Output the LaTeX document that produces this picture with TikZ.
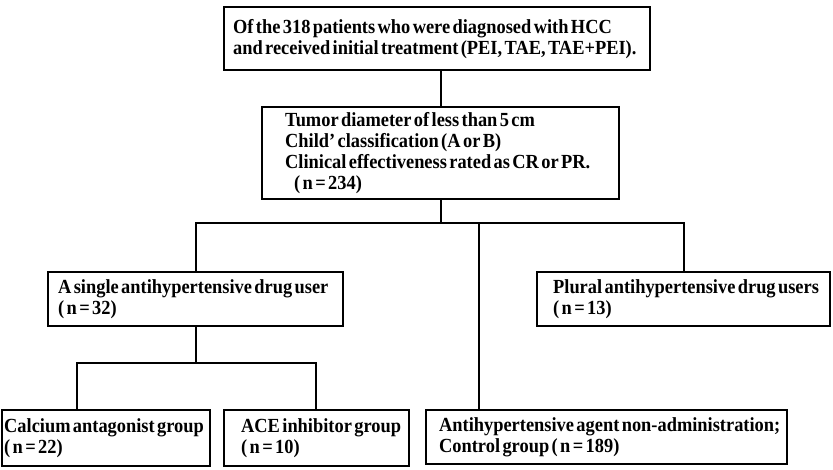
\documentclass[tikz,border=0pt]{standalone}
\usepackage{fontspec}
\setmainfont{Liberation Serif}[BoldFeatures={FakeStretch=0.92}]
\begin{document}
\begin{tikzpicture}[x=1pt,y=-1pt,
  every node/.style={font=\fontsize{20}{21}\selectfont\bfseries},
  boxnode/.style={draw,line width=2.3pt,anchor=north west,align=left,inner ysep=0pt,
    execute at begin node={\spaceskip=0.12em\relax}},
  link/.style={line width=2.3pt}]
\useasboundingbox (0,0) rectangle (833,469);
\node[boxnode,inner xsep=9pt,text width=408pt,minimum height=63pt] (b1) at (223,6)
  {\mbox{Of the 318 patients who were diagnosed with HCC}\\\mbox{and received initial treatment (PEI, TAE, TAE+PEI).}};
\node[boxnode,inner xsep=23pt,text width=311pt,minimum height=92pt] (b2) at (261,106)
  {\mbox{Tumor diameter of less than 5 cm}\\\mbox{Child' classification (A or B)}\\\mbox{Clinical effectiveness rated as CR or PR.}\\\mbox{\hspace*{9pt}( n = 234)}};
\node[boxnode,inner xsep=10pt,text width=275pt,minimum height=54pt] (b3) at (47,271)
  {\mbox{A single antihypertensive drug user}\\\mbox{( n = 32)}};
\node[boxnode,inner xsep=16pt,text width=261pt,minimum height=54pt] (b4) at (536,271)
  {\mbox{Plural antihypertensive drug users}\\\mbox{( n = 13)}};
\node[boxnode,inner xsep=2pt,text width=204pt,minimum height=56pt] (b5) at (1,409)
  {\mbox{Calcium antagonist group}\\\mbox{( n = 22)}};
\node[boxnode,inner xsep=17pt,text width=151pt,minimum height=56pt] (b6) at (223,409)
  {\mbox{ACE inhibitor group}\\\mbox{( n = 10)}};
\node[boxnode,inner xsep=13pt,text width=335pt,minimum height=54pt] (b7) at (425,409)
  {\mbox{Antihypertensive agent non-administration;}\\\mbox{Control group ( n = 189)}};
\coordinate (hl) at (196,223);
\coordinate (hm) at (479,223);
\coordinate (hr) at (684,223);
\coordinate (ll) at (77,363);
\coordinate (lr) at (316,363);
\draw[link] (b1.south -| b2.north) -- (b2.north);
\draw[link] (b2.south) -- (b2.south |- hl);
\draw[link] (hl |- b3.north) -- (hl) -- (hr) -- (hr |- b4.north);
\draw[link] (hm) -- (hm |- b7.north);
\draw[link] (hl |- b3.south) -- (hl |- ll);
\draw[link] (ll |- b5.north) -- (ll) -- (lr) -- (lr |- b6.north);
\end{tikzpicture}
\end{document}
